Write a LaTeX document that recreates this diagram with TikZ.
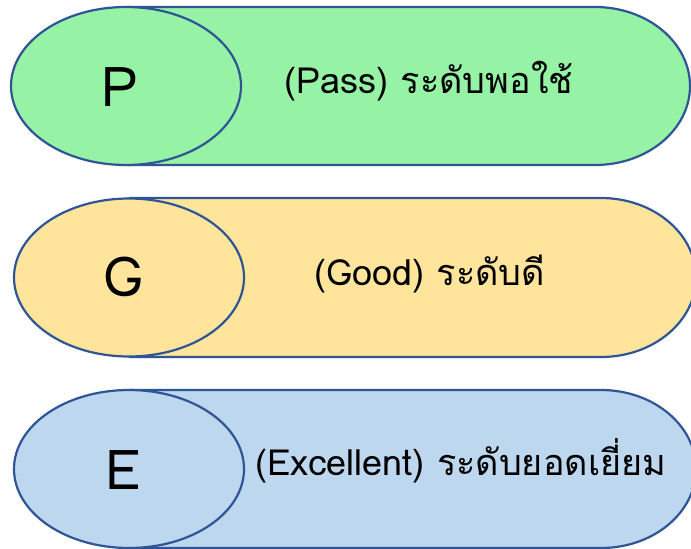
\documentclass[tikz,border=0pt]{standalone}
\usepackage{fontspec}
\usetikzlibrary{shapes.geometric}
\newfontfamily\thaifont[Script=Thai]{Loma}
\setmainfont[Script=Thai]{Loma}
\definecolor{rimblue}{HTML}{2F5597}
\definecolor{passgreen}{HTML}{96F3A5}
\definecolor{goodyellow}{HTML}{FEE59B}
\definecolor{excblue}{HTML}{BDD7EE}
\tikzset{
  rim/.style={draw=rimblue, line width=2.2pt},
  badge/.style={rim, ellipse, minimum width=230pt, minimum height=158pt, inner sep=0pt},
  letter/.style={inner sep=0pt, font=\fontsize{55}{60}\selectfont, anchor=base},
  caption/.style={inner sep=0pt, font=\thaifont\fontsize{36}{42}\selectfont, anchor=base},
}
\newcommand{\band}[5]{% fill, left x, top y, bottom y, right x
  \fill[#1] (#2,#3) -- (#5-95,#3) arc[start angle=90, end angle=-90, x radius=95pt, y radius={(#4-#3)/2*1pt}] -- (#2,#4) -- cycle;
  \draw[rim] (#2,#3) -- (#5-95,#3) arc[start angle=90, end angle=-90, x radius=95pt, y radius={(#4-#3)/2*1pt}] -- (#2,#4);
}
\begin{document}
\begin{tikzpicture}[x=1pt,y=-1pt]
\useasboundingbox (0,0) rectangle (691,549);
\fill[white] (0,0) rectangle (691,549);
% row 1
\band{passgreen}{126}{7}{165}{690}
\node[badge, fill=passgreen] (p) at (126,86) {};
\node[letter] (pl) at (120,106) {P};
\node[caption] (pt) at (429,93) {(Pass) ระดับพอใช้};
% row 2
\band{goodyellow}{129}{198}{357}{696}
\node[badge, fill=goodyellow] (g) at (129,277.5) {};
\node[letter] (gl) at (123,296) {G};
\node[caption] (gt) at (430,285) {(Good) ระดับดี};
% row 3
\band{excblue}{129}{390}{548}{696}
\node[badge, fill=excblue] (e) at (129,469) {};
\node[letter] (el) at (123,489) {E};
\node[caption] (et) at (461,475) {(Excellent) ระดับยอดเยี่ยม};
\end{tikzpicture}
\end{document}
